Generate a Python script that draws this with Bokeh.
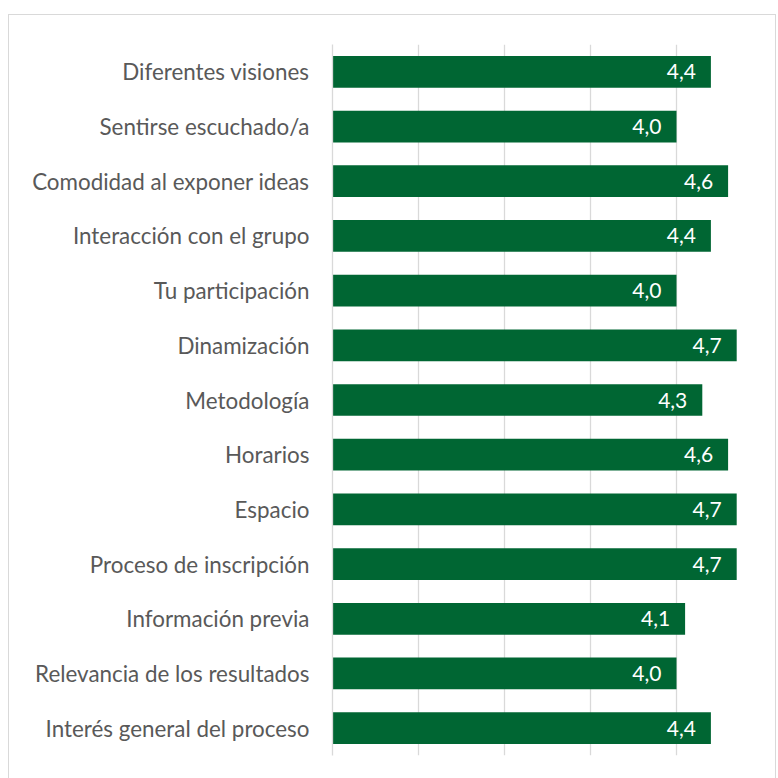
from bokeh.plotting import figure
from bokeh.models import ColumnDataSource, FactorRange, Range1d, LabelSet
from bokeh.embed import file_html
from bokeh.resources import INLINE
from bokeh.core.properties import value

categories = [
    "Diferentes visiones",
    "Sentirse escuchado/a",
    "Comodidad al exponer ideas",
    "Interacción con el grupo",
    "Tu participación",
    "Dinamización",
    "Metodología",
    "Horarios",
    "Espacio",
    "Proceso de inscripción",
    "Información previa",
    "Relevancia de los resultados",
    "Interés general del proceso",
]
values = [4.4, 4.0, 4.6, 4.4, 4.0, 4.7, 4.3, 4.6, 4.7, 4.7, 4.1, 4.0, 4.4]
labels = [f"{v:.1f}".replace(".", ",") for v in values]

FONT = "Lato"
GREEN = "#006633"
GRID = "#d9d9d9"

src = ColumnDataSource(dict(cat=categories, val=values, lab=labels))

p = figure(
    width=768, height=772,
    y_range=FactorRange(*reversed(categories), range_padding=0),
    x_range=Range1d(0, 5),
    output_backend="svg", toolbar_location=None,
    min_border_left=323, min_border_right=15, min_border_top=29, min_border_bottom=32,
)
p.styles = {"border": "1px solid #d9d9d9", "margin-top": "14px", "margin-left": "8px"}
p.outline_line_color = None

p.hbar(y="cat", right="val", left=0, height=0.58, source=src, fill_color=GREEN, line_color=None)

p.add_layout(LabelSet(x="val", y="cat", text="lab", source=src, x_offset=-15,
                      text_align="right", text_baseline="middle", text_color="white",
                      text_font=value(FONT), text_font_size="21px"))

p.xaxis.visible = False
p.xgrid.grid_line_color = GRID
p.xgrid.grid_line_width = 1.3
p.xgrid.ticker = [0, 1, 2, 3, 4, 5]
p.ygrid.grid_line_color = None

ya = p.yaxis[0]
ya.axis_line_color = GRID
ya.axis_line_width = 1.3
ya.major_tick_line_color = None
ya.minor_tick_line_color = None
ya.major_label_standoff = 17
ya.major_label_text_font = FONT
ya.major_label_text_font_size = "22.4px"
ya.major_label_text_color = "#595959"

open("out.html", "w").write(file_html(p, INLINE))
